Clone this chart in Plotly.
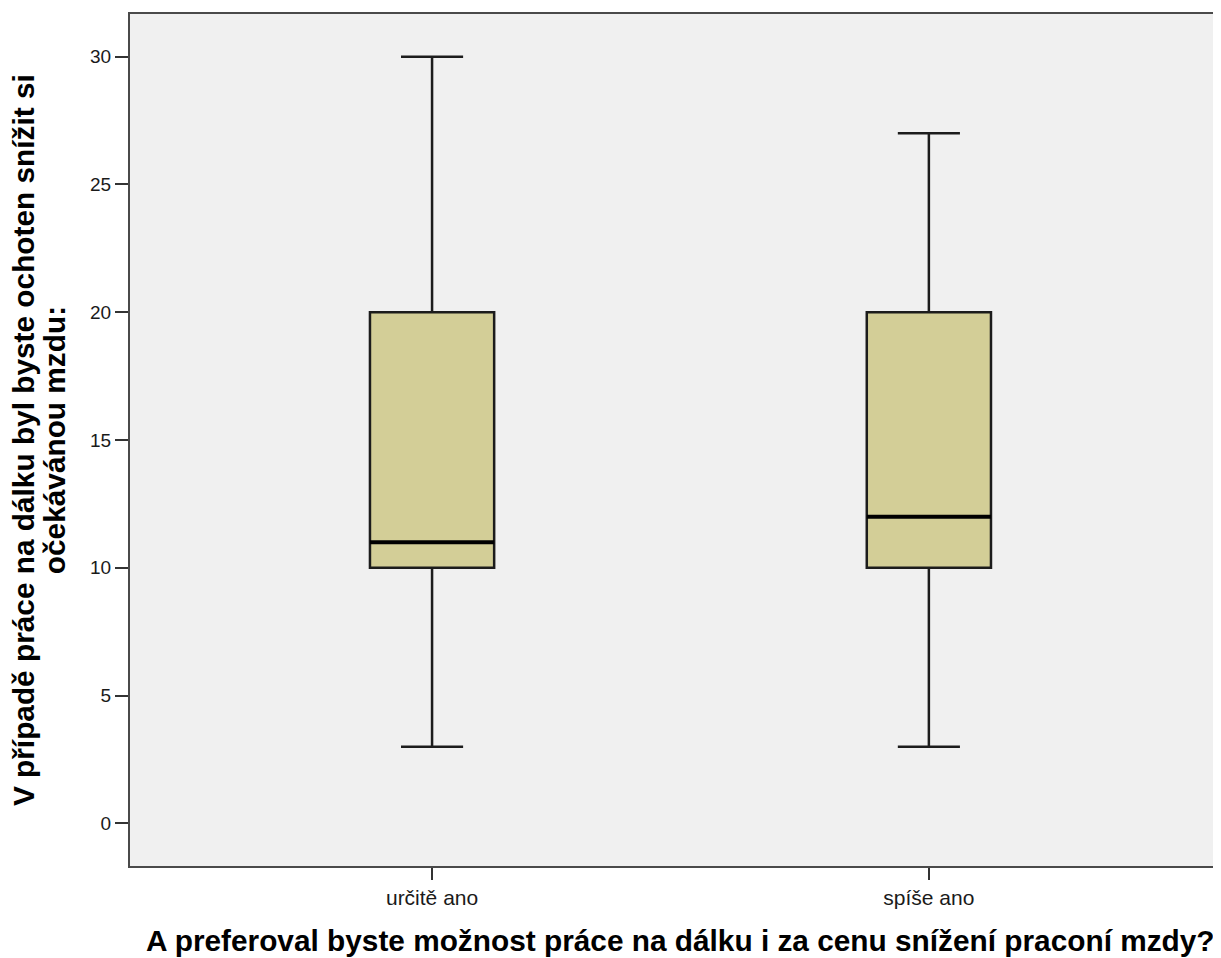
import plotly.graph_objects as go

categories = ["určitě ano", "spíše ano"]
q1 = [10, 10]
median = [11, 12]
q3 = [20, 20]
lower = [3, 3]
upper = [30, 27]
y_ticks = [0, 5, 10, 15, 20, 25, 30]
x_title = "A preferoval byste možnost práce na dálku i za cenu snížení praconí mzdy?"
y_title_lines = ["V případě práce na dálku byl byste ochoten snížit si", "očekávánou mzdu:"]

xpos = list(range(len(categories)))
box_w = 0.25
FONT = "Liberation Sans, Arial, sans-serif"

fig = go.Figure()
for i, c in enumerate(categories):
    fig.add_trace(go.Box(
        x=[xpos[i]], q1=[q1[i]], median=[median[i]], q3=[q3[i]],
        lowerfence=[lower[i]], upperfence=[upper[i]],
        width=box_w, whiskerwidth=0.5,
        fillcolor="#d3ce97",
        line=dict(color="#1c1c1c", width=2.5),
        name=c, showlegend=False, hoverinfo="skip",
    ))
    fig.add_trace(go.Scatter(
        x=[xpos[i] - box_w / 2, xpos[i] + box_w / 2], y=[median[i], median[i]],
        mode="lines", line=dict(color="black", width=4),
        showlegend=False, hoverinfo="skip",
    ))

annotations = [
    dict(text="<b>%s</b>" % x_title, xref="paper", yref="paper", x=0.505, y=-0.087,
         xanchor="center", yanchor="middle", showarrow=False,
         font=dict(family=FONT, size=29.8, color="#000")),
    dict(text="<b>%s</b>" % y_title_lines[0], xref="paper", yref="paper", x=-0.098, y=0.5,
         xanchor="center", yanchor="middle", showarrow=False, textangle=-90,
         font=dict(family=FONT, size=29.8, color="#000")),
    dict(text="<b>%s</b>" % y_title_lines[1], xref="paper", yref="paper", x=-0.0695, y=0.5,
         xanchor="center", yanchor="middle", showarrow=False, textangle=-90,
         font=dict(family=FONT, size=29.8, color="#000")),
]

fig.update_layout(
    width=1213, height=950,
    margin=dict(l=122, r=0, t=6, b=92),
    paper_bgcolor="white", plot_bgcolor="#f0f0f0",
    font=dict(family=FONT, color="#1a1a1a"),
    showlegend=False,
    annotations=annotations,
)
fig.update_xaxes(
    range=[-0.608, 1.588], tickvals=xpos, ticktext=categories,
    showgrid=False, zeroline=False,
    showline=True, linecolor="#4a4a4a", linewidth=2, mirror=True,
    ticks="outside", ticklen=12, tickwidth=2, tickcolor="#333",
    tickfont=dict(size=21, color="#1a1a1a"),
)
fig.update_yaxes(
    range=[-1.67, 31.67], tickvals=y_ticks,
    showgrid=False, zeroline=False,
    showline=True, linecolor="#4a4a4a", linewidth=2,
    ticks="outside", ticklen=13, tickwidth=2, tickcolor="#333",
    tickfont=dict(size=19, color="#1a1a1a"),
)

fig.write_html("out.html")
